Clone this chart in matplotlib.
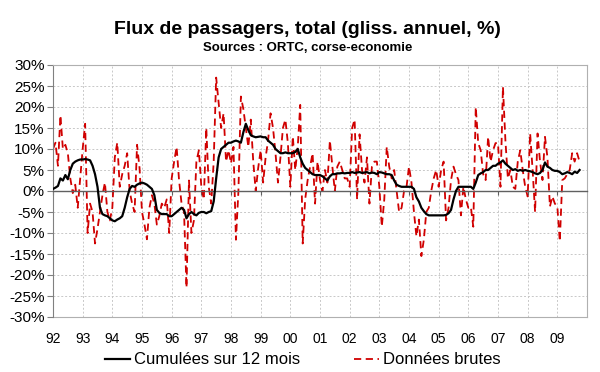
import numpy as np
import matplotlib
matplotlib.use("Agg")
import matplotlib.pyplot as plt
from matplotlib.lines import Line2D

plt.rcParams['font.family'] = ['Liberation Sans', 'DejaVu Sans']

title = "Flux de passagers, total (gliss. annuel, %)"
subtitle = "Sources : ORTC, corse-economie"
start_year = 1992
year_labels = ["92", "93", "94", "95", "96", "97", "98", "99", "00", "01",
               "02", "03", "04", "05", "06", "07", "08", "09"]
y_ticks = [-30, -25, -20, -15, -10, -5, 0, 5, 10, 15, 20, 25, 30]
series_names = ["Cumulées sur 12 mois", "Données brutes"]

# Cumul sur 12 mois (monthly, Jan 1992 -> Oct 2009)
cumul = [
    0.5, 0.8, 1.2, 3.0, 2.5, 3.8, 2.8, 5.0, 6.5, 7.0, 7.3, 7.5,          # 1992
    7.5, 7.6, 7.5, 7.3, 6.0, 4.0, 1.0, -4.0, -5.5, -5.8, -6.0, -6.5,     # 1993
    -7.0, -7.2, -6.8, -6.5, -6.0, -4.0, -1.5, 0.5, 1.2, 1.0, 1.5, 1.8,   # 1994
    2.0, 1.8, 1.5, 1.0, 0.5, -1.0, -4.5, -5.2, -5.5, -5.5, -5.5, -6.0,   # 1995
    -6.0, -5.5, -5.0, -4.5, -4.0, -4.5, -6.5, -5.5, -5.0, -5.5, -5.8, -5.2,  # 1996
    -5.0, -5.0, -5.3, -5.0, -4.8, -2.5, 3.0, 8.0, 10.0, 10.5, 11.0, 11.5,    # 1997
    11.5, 11.8, 12.0, 11.8, 11.5, 14.0, 16.0, 14.5, 13.3, 13.0, 12.8, 12.9,  # 1998
    13.0, 12.8, 12.8, 12.0, 11.5, 11.0, 10.0, 9.5, 9.0, 9.0, 9.2, 9.0,      # 1999
    9.0, 9.0, 9.3, 10.0, 8.0, 6.5, 5.5, 5.0, 4.5, 4.0, 3.8, 3.8,            # 2000
    3.8, 3.5, 3.0, 2.5, 3.5, 4.0, 4.0, 4.2, 4.2, 4.3, 4.2, 4.3,             # 2001
    4.3, 4.5, 4.3, 4.4, 4.5, 4.3, 4.4, 4.5, 4.2, 4.4, 4.3, 4.0,             # 2002
    4.5, 4.4, 4.2, 4.0, 4.0, 3.8, 2.5, 1.5, 1.2, 1.0, 1.0, 1.0,             # 2003
    1.0, 1.0, 0.5, -1.5, -2.5, -4.0, -4.8, -5.5, -5.8, -5.8, -5.8, -5.8,    # 2004
    -5.8, -5.8, -5.8, -5.7, -5.3, -4.5, -2.0, 0.0, 1.0, 1.0, 1.0, 1.0,      # 2005
    1.0, 1.0, 0.5, 2.0, 3.8, 4.2, 4.5, 5.0, 5.0, 5.5, 6.0, 6.0,             # 2006
    6.5, 6.8, 7.3, 6.5, 6.0, 5.5, 5.0, 5.2, 4.8, 5.0, 4.8, 5.0,             # 2007
    4.8, 4.7, 4.5, 4.2, 4.0, 4.3, 5.0, 6.8, 5.8, 5.5, 5.0, 4.8,             # 2008
    4.8, 4.5, 4.0, 4.2, 4.5, 4.3, 4.0, 4.6, 4.3, 5.0,                       # 2009
]

# Données brutes (monthly, Jan 1992 -> Oct 2009)
brutes = [
    10, 11.5, 6, 18, 10, 11, 9, 3, -0.5, 1.5, -4, 3,                 # 1992
    10, 16, -10, -3, -5, -12.5, -9, -5, -1, 2, -5, -7,               # 1993
    -4, 8, 11.5, 1, 4, 6, 9, 0, -3, -5, 11, 5.5,                     # 1994
    -5, -8, -11.5, -4, -1, -3, -8, -6, -3, -4, -2, -10,              # 1995
    3, 7, 10.5, 2.5, -3, -5, -23, 2.5, -10, -7, 7, 9.7,              # 1996
    1, -2, 15, 1, -3, 7, 27, 21, 15, 18.5, 7, 9.7,                   # 1997
    6.6, 10.5, -11.6, 0, 22.5, 19.5, 15, 10.5, 17, 7, 0, 5.5,        # 1998
    9.7, 2, 8, 12, 18.5, 15, 9, 2, 8, 15, 17, 11.4,                  # 1999
    1, 13, 5, 10.5, 20.5, -12.5, -2, 2.6, 5.8, 9, -3, 7,             # 2000
    2.6, 0, 5, 2, 12, 5.8, 0, 5.8, 7, 5, 3, 3,                       # 2001
    1, 15, 17, -2, 13.5, 5, 2, 8, -3, 5.8, 7, 7,                     # 2002
    1, -8.5, -2, 10.5, 5.8, 3, 5, 0, -5, -4, 0, 1,                   # 2003
    5.8, 2, -5, -10.8, -6.8, -15.5, -11.6, -5, -4, 0, 3, 5,          # 2004
    1, 5, 7, -7, -4, 2.6, 5.8, 4, 2.6, -5.8, 1, -2,                  # 2005
    -4, -3.7, -8.5, 20, 11.4, 9.7, 4, 2.6, 12.9, 7, 9.7, 11.4,       # 2006
    11.4, 1, 24.8, 12, 3, 5, 1, 0.5, 7, 9.7, 5, 1,                   # 2007
    -1.3, 13.7, 5, -5, 13.7, 7, 2.6, 12.9, 8, -3.7, -1.3, -3,        # 2008
    -3.7, -12, 2.6, 3, 4, 5, 9, 7, 9, 7,                             # 2009
]

n = len(cumul)
x = start_year + np.arange(n) / 12.0
years = np.arange(start_year, start_year + len(year_labels))

fig = plt.figure(figsize=(6.0, 3.72), dpi=100)
ax = fig.add_axes([53 / 600, 55 / 372, 534 / 600, 252 / 372])

ax.set_xlim(start_year, start_year + 18)
ax.set_ylim(-30, 30)

# grid
for yy in y_ticks:
    ax.axhline(yy, color="#c8c8c8", lw=0.7, ls=(0, (2, 2)), zorder=0)
for xx in years[1:]:
    ax.axvline(xx, color="#c8c8c8", lw=0.7, ls=(0, (2, 2)), zorder=0)

ax.plot(x, brutes, color="#d00000", lw=1.3, dashes=(4, 2.5), zorder=2)
ax.plot(x, cumul, color="black", lw=1.6, zorder=3)

# y axis
ax.set_yticks(y_ticks)
ax.set_yticklabels([f"{v}%" for v in y_ticks], fontsize=11)
ax.tick_params(axis="y", direction="out", length=4, width=0.8, color="#808080", pad=2)

# zero axis line with ticks
ax.spines["bottom"].set_position(("data", 0))
ax.spines["bottom"].set_color("#606060")
ax.spines["bottom"].set_linewidth(1.0)
ax.set_xticks(years)
ax.tick_params(axis="x", direction="out", length=3, color="#606060", labelbottom=False)

for s in ["top", "right"]:
    ax.spines[s].set_color("#b0b0b0")
    ax.spines[s].set_linewidth(0.8)
ax.spines["left"].set_color("#808080")
ax.spines["left"].set_linewidth(0.8)

sec = ax.secondary_xaxis(0.0)
sec.set_xticks(years)
sec.set_xticklabels(year_labels, fontsize=10)
sec.tick_params(axis="x", length=0, pad=11)
sec.spines["bottom"].set_color("#b0b0b0")
sec.spines["bottom"].set_linewidth(0.8)

fig.text(0.512, 1 - 30 / 372, title, ha="center", va="center", fontsize=14, fontweight="bold")
fig.text(0.512, 1 - 48 / 372, subtitle, ha="center", va="center", fontsize=9.5, fontweight="bold")

handles = [Line2D([], [], color="black", lw=1.6),
           Line2D([], [], color="#d00000", lw=1.3, dashes=(4, 2.5))]
fig.legend(handles, series_names, loc="center", bbox_to_anchor=(0.505, 12 / 372),
           ncol=2, frameon=False, fontsize=12, handlelength=1.5, columnspacing=3.2,
           handletextpad=0.25)

fig.savefig("out.png", dpi=100)
